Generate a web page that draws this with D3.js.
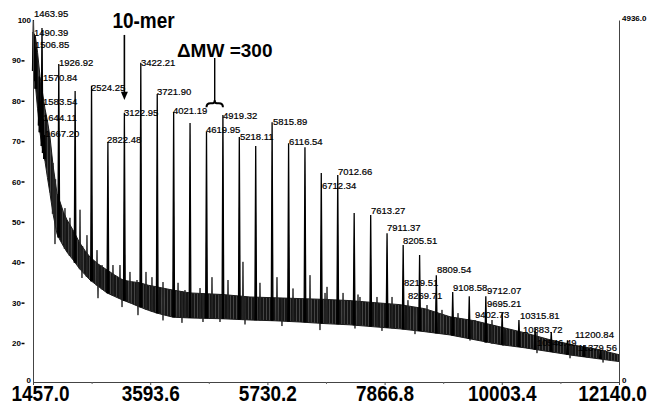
<!DOCTYPE html>
<html>
<head>
<meta charset="utf-8">
<script src="https://cdn.jsdelivr.net/npm/d3@7"></script>
<style>
  body { margin: 0; background: #fff; }
  svg { display: block; font-family: "Liberation Sans", Arial, sans-serif; }
</style>
</head>
<body>
<svg id="chart" width="648" height="405"></svg>
<script>
// axis ticks
const mzTicks = [1457.0, 3593.6, 5730.2, 7866.8, 10003.4, 12140.0];
const mzMinorTicks = [2525.3, 4661.9, 6798.5, 8935.1, 11071.7];
const pctTicks = [0, 20, 30, 40, 50, 60, 70, 80, 90, 100];
const countMax = 4936.0;

// noisy baseline band (m/z, lower %, upper %)
const bandMz = [1457, 1500, 1540, 1585, 1630, 1676, 1720, 1767, 1822, 1895, 1949, 2010, 2077, 2186, 2300, 2400, 2496, 2650, 2806, 2950, 3098, 3250, 3408, 3560, 3717, 3860, 4009, 4319, 4921, 5413, 5870, 6324, 6780, 7236, 7690, 8147, 8600, 9059, 9510, 9970, 10430, 10882, 11340, 11793, 12000, 12140];
const bandLo = [88, 84, 78, 72, 68, 65, 61, 57, 52, 47, 45.5, 44, 42.5, 40.6, 38.5, 37, 35.6, 34, 32.4, 31.5, 30.6, 29.8, 28.9, 28.1, 27.4, 26.9, 26.4, 26.2, 26, 25.7, 25.5, 25.2, 24.8, 24.5, 24, 23.5, 22.8, 22, 20.8, 19.2, 17.5, 15.5, 13.5, 11.8, 11, 10.5];
const bandHi = [97, 96, 92, 86, 82, 78, 75, 71, 64, 57, 55, 52.5, 50.5, 48, 45, 43, 41.3, 39.5, 38.1, 36.8, 35.6, 35.2, 34.9, 34.3, 33.9, 33.5, 33.1, 32.4, 32, 31.4, 31.2, 31, 30.8, 30.5, 30, 29.5, 28.5, 26.5, 25.5, 24, 22.5, 20.8, 18.8, 16.5, 15, 14];

// main oligomer peaks (m/z, %)
const peakMz = [1463.95, 1490.39, 1506.85, 1570.84, 1583.54, 1621, 1644.11, 1667.20, 1926.92, 2225, 2524.25, 2822.48, 3122.95, 3422.21, 3721.90, 4021.19, 4320, 4619.95, 4919.32, 5218.11, 5517, 5815.89, 6116.54, 6415, 6712.34, 7012.66, 7312, 7613.27, 7911.37, 8205.51, 8505, 8809.54, 9108.58, 9410, 9712.07, 10010, 10315.81, 10610, 10905, 11200.84, 11500, 11800];
const peakPct = [100, 96, 93, 86, 80, 98, 75.5, 71.5, 89.1, 82.4, 83.7, 69.8, 77.0, 89.4, 81.7, 77.2, 74.5, 72.3, 76.5, 71.0, 68.8, 74.7, 69.5, 68.5, 62.1, 61.6, 52.2, 51.7, 47.2, 44.3, 41.8, 36.8, 32.6, 31.6, 31.6, 27.4, 25.7, 23.7, 22.7, 20.7, 19, 16];

// smaller spikes sticking up out of the noise
const spikeMz = [1822, 2040, 2131, 2314, 2441, 2624, 2715, 2915, 3043, 3225, 3353, 3517, 3626, 3827, 4101, 4228, 4502, 4720, 5012, 5285, 5595, 5905, 6197, 6507, 6781, 6817, 7109, 7382, 7418, 7728, 8002, 8293, 8640, 8913, 9205, 9515, 9825, 10098, 10645, 10937, 11283, 11557, 11849];
const spikePct = [64.6, 53.4, 51, 53, 46.7, 43, 39.3, 39.3, 39.3, 37.6, 35.6, 37.6, 36.3, 35.1, 34.9, 33.1, 33.6, 36.3, 35.6, 40.1, 34.9, 36.3, 33.5, 36.8, 32.4, 33.9, 32.4, 32, 31.4, 31.4, 31.4, 30.6, 29.4, 28.2, 27.4, 25.7, 25.7, 23.2, 22.5, 20.7, 19, 17.4, 15.4];

// dips below the noise floor
const dipMz = [1858, 2350, 2642, 3080, 3371, 3827, 4173, 4556, 4866, 5322, 5996, 6689, 7327, 7819, 8421, 9424, 10026, 10645, 11247, 11849];
const dipPct = [44.5, 36.1, 31.1, 28.9, 26.9, 25.6, 25, 25.2, 25.2, 24.6, 24.2, 23.2, 23.6, 23.0, 22.2, 20.6, 18.6, 14.8, 12.2, 10.0];

// peak labels: text, m/z where text starts, % level of text middle
const labelText = ["1463.95", "1490.39", "1506.85", "1570.84", "1583.54", "1644.11", "1667.20", "1926.92", "2524.25", "2822.48", "3122.95", "3422.21", "3721.90", "4021.19", "4619.95", "4919.32", "5218.11", "5815.89", "6116.54", "6712.34", "7012.66", "7613.27", "7911.37", "8205.51", "8219.51", "8269.71", "8809.54", "9108.58", "9712.07", "9695.21", "9402.73", "10315.81", "10383.72", "10546.49", "11200.84", "11379.56"];
const labelMz = [1475, 1475, 1493, 1640, 1640, 1640, 1676, 1931, 2514, 2806, 3116, 3426, 3717, 4009, 4611, 4921, 5231, 5832, 6124, 6726, 7017, 7619, 7911, 8202, 8220, 8293, 8822, 9114, 9733, 9733, 9515, 10335, 10390, 10645, 11338, 11393];
const labelPct = [101.5, 96.8, 93.8, 85.6, 79.7, 75.7, 71.8, 89.4, 83.2, 70.3, 77.0, 89.4, 82.2, 77.5, 72.8, 76.2, 71.0, 74.7, 69.8, 58.9, 62.4, 52.7, 48.5, 45.3, 34.9, 31.6, 38.1, 33.6, 32.9, 29.7, 26.9, 26.7, 23.2, 20.2, 22.0, 17.4];

const svg = d3.select("#chart");

// vertical hatch so the noise band doesn't look like a flat slab
const pat = svg.append("defs").append("pattern")
    .attr("id", "noise")
    .attr("width", 3).attr("height", 4)
    .attr("patternUnits", "userSpaceOnUse");
pat.append("rect").attr("width", 3).attr("height", 4).attr("fill", "#444");
pat.append("rect").attr("width", 2).attr("height", 4).attr("fill", "#151515");

// scales - the intensity axis is squashed below 20
const x = d3.scaleLinear().domain([1457.0, 12140.0]).range([33, 619]);
const y = d3.scaleLinear().domain([0, 20, 100]).range([382, 343, 20]);
const yCounts = d3.scaleLinear().domain([0, countMax]).range([y(0), y(100)]);

// look up the band level at some m/z
const bandAt = (mz, arr) => {
    const i = Math.max(1, Math.min(bandMz.length - 1, d3.bisectLeft(bandMz, mz)));
    const t = (mz - bandMz[i - 1]) / (bandMz[i] - bandMz[i - 1]);
    return d3.interpolateNumber(arr[i - 1], arr[i])(t);
};

// noise band
const band = bandMz.map((m, i) => ({ m, lo: bandLo[i], hi: bandHi[i] }));
const area = d3.area()
    .x(d => x(d.m))
    .y0(d => y(d.lo))
    .y1(d => y(d.hi));
svg.append("path")
    .datum(band)
    .attr("d", area)
    .attr("fill", "url(#noise)")
    .attr("stroke", "#1a1a1a")
    .attr("stroke-width", 1)
    .attr("stroke-linejoin", "round");

// spikes drawn as narrow triangles off the band
const spikePath = (mz, pct, half, arr) => {
    const base = bandAt(mz, arr);
    return `M${x(mz - half)},${y(base)}L${x(mz)},${y(pct)}L${x(mz + half)},${y(base)}`;
};

svg.append("g")
    .selectAll("path")
    .data(dipMz.map((m, i) => [m, dipPct[i]]))
    .join("path")
    .attr("d", d => spikePath(d[0], d[1], 14, bandHi))
    .attr("fill", "#222")
    .attr("stroke", "#222")
    .attr("stroke-width", 0.9);

svg.append("g")
    .selectAll("path")
    .data(spikeMz.map((m, i) => [m, spikePct[i]]))
    .join("path")
    .attr("d", d => spikePath(d[0], d[1], 14, bandLo))
    .attr("fill", "#222")
    .attr("stroke", "#222")
    .attr("stroke-width", 0.9);

svg.append("g")
    .selectAll("path")
    .data(peakMz.map((m, i) => [m, peakPct[i]]))
    .join("path")
    .attr("d", d => spikePath(d[0], d[1], 16, bandLo))
    .attr("fill", "#000")
    .attr("stroke", "#000")
    .attr("stroke-width", 1.3);

// peak labels
svg.append("g")
    .selectAll("text")
    .data(labelText.map((t, i) => ({ t, m: labelMz[i], p: labelPct[i] })))
    .join("text")
    .attr("x", d => x(d.m))
    .attr("y", d => y(d.p))
    .attr("dy", "0.35em")
    .attr("font-size", 9.5)
    .attr("fill", "#000")
    .attr("stroke", "#000")
    .attr("stroke-width", 0.2)
    .text(d => d.t);

// left axis
const yAxis = d3.axisLeft(y).tickValues(pctTicks).tickSize(0).tickPadding(12);
const yG = svg.append("g").attr("transform", `translate(${x(1457.0)},0)`).call(yAxis);
yG.select(".domain").attr("stroke", "#444").attr("stroke-width", 1);
yG.selectAll("text")
    .attr("font-size", 8)
    .attr("font-weight", "bold")
    .attr("fill", "#000")
    .attr("font-family", "Liberation Sans, Arial, sans-serif")
    .attr("x", d => (d === 0 || d === 100) ? -2 : -12)
    .attr("dy", d => d === 0 ? "0.1em" : "0.32em");
yG.selectAll(".tick")
    .filter(d => d !== 0 && d !== 100)
    .append("line")
    .attr("x1", -11.5).attr("x2", -8.5)
    .attr("stroke", "#000").attr("stroke-width", 1.5);

// right axis (raw counts)
const rAxis = d3.axisRight(yCounts).tickValues([0, countMax]).tickSize(0).tickPadding(3)
    .tickFormat(d => d === 0 ? "0" : d3.format(".1f")(d));
const rG = svg.append("g").attr("transform", `translate(${x(12140.0)},0)`).call(rAxis);
rG.select(".domain").attr("stroke", "#444").attr("stroke-width", 1);
rG.selectAll("text")
    .attr("font-size", 8)
    .attr("font-weight", "bold")
    .attr("fill", "#000")
    .attr("font-family", "Liberation Sans, Arial, sans-serif")
    .attr("dy", d => d === 0 ? "0.1em" : "0.05em");

// bottom axis
const xAxis = d3.axisBottom(x).tickValues(mzTicks).tickSize(3).tickFormat(d3.format(".1f"));
const xG = svg.append("g").attr("transform", `translate(0,${y(0)})`).call(xAxis);
xG.select(".domain").attr("stroke", "#444").attr("stroke-width", 1);
xG.selectAll("line").attr("stroke", "#444");
xG.selectAll("text")
    .attr("y", null)
    .attr("dy", null)
    .attr("font-size", 19)
    .attr("font-weight", "bold")
    .attr("fill", "#000")
    .attr("font-family", "Liberation Sans, Arial, sans-serif")
    .attr("transform", (d, i) => {
        const shift = i === 0 ? 7 : (i === mzTicks.length - 1 ? -7 : 0);
        return `translate(${shift},19) scale(1,1.12)`;
    });

const xMinor = d3.axisBottom(x).tickValues(mzMinorTicks).tickSize(2).tickFormat("");
svg.append("g").attr("transform", `translate(0,${y(0)})`).call(xMinor)
    .call(g => g.select(".domain").remove())
    .selectAll("line").attr("stroke", "#666");

// annotations
const arrowX = x(3122.95);
svg.append("text")
    .attr("x", arrowX - 12)
    .attr("y", 0)
    .attr("transform", `translate(0,28) scale(1,1.12)`)
    .attr("font-size", 19)
    .attr("font-weight", "bold")
    .attr("fill", "#000")
    .text("10-mer");
svg.append("line")
    .attr("x1", arrowX).attr("x2", arrowX)
    .attr("y1", y(96.3)).attr("y2", y(82))
    .attr("stroke", "#000").attr("stroke-width", 1.6);
svg.append("path")
    .attr("d", `M${arrowX - 3.5},${y(82.2)}L${arrowX + 3.5},${y(82.2)}L${arrowX},${y(80.2)}Z`)
    .attr("fill", "#000");

const b0 = x(4619.95), b1 = x(4919.32), bm = (b0 + b1) / 2;
const by = y(79.4);
svg.append("text")
    .attr("x", bm + 10)
    .attr("y", 57)
    .attr("text-anchor", "middle")
    .attr("font-size", 19)
    .attr("font-weight", "bold")
    .attr("fill", "#000")
    .text("\u0394MW =300");
svg.append("line")
    .attr("x1", bm).attr("x2", bm)
    .attr("y1", y(90.6)).attr("y2", by - 2)
    .attr("stroke", "#000").attr("stroke-width", 1.4);
svg.append("path")
    .attr("d", `M${b0},${by + 4}Q${b0},${by} ${b0 + 4},${by}L${bm - 2},${by}Q${bm},${by} ${bm},${by - 3}Q${bm},${by} ${bm + 2},${by}L${b1 - 4},${by}Q${b1},${by} ${b1},${by + 4}`)
    .attr("fill", "none")
    .attr("stroke", "#000")
    .attr("stroke-width", 2);
</script>
</body>
</html>
